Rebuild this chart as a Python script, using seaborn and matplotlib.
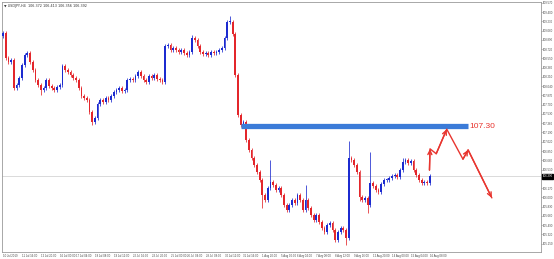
import matplotlib
matplotlib.use("Agg")
import matplotlib.pyplot as plt
import matplotlib.transforms as mtransforms
import seaborn as sns
import numpy as np
import pandas as pd

# ---------------- data ----------------
symbol_info = "USDJPY,H4  106.372 106.413 106.356 106.392"
first_open = 108.96
closes = [
    109.02, 108.56, 108.48, 108.52, 108.01, 108.06, 108.19, 108.43, 108.61, 108.65,
    108.48, 108.34, 108.15, 108.06, 107.97, 108.01, 108.15, 108.04, 108.01, 107.97,
    108.02, 108.06, 108.41, 108.34, 108.30, 108.25, 108.19, 108.15, 108.01, 107.86,
    107.82, 107.79, 107.57, 107.38, 107.46, 107.71, 107.79, 107.75, 107.82, 107.79,
    107.86, 107.93, 107.97, 108.01, 107.95, 107.97, 108.15, 108.17, 108.15, 108.23,
    108.30, 108.23, 108.15, 108.12, 108.23, 108.19, 108.25, 108.17, 108.15, 108.12,
    108.78, 108.80, 108.70, 108.74, 108.70, 108.67, 108.70, 108.65, 108.61, 108.67,
    108.92, 108.89, 108.78, 108.67, 108.63, 108.65, 108.61, 108.67, 108.65, 108.67,
    108.70, 108.74, 108.92, 109.22, 109.22, 109.00, 108.25, 107.51, 107.33, 107.38,
    107.05, 106.87, 106.72, 106.59, 106.47, 106.32, 106.04, 105.95, 106.17, 106.28,
    106.23, 106.13, 106.17, 106.04, 105.86, 105.77, 105.86, 105.95, 105.90, 106.04,
    105.95, 105.77, 105.95, 105.80, 105.68, 105.58, 105.68, 105.55, 105.44, 105.36,
    105.49, 105.53, 105.40, 105.22, 105.36, 105.44, 105.40, 105.25, 106.72, 106.69,
    106.59, 106.47, 106.01, 105.95, 105.99, 105.86, 106.26, 106.21, 106.13, 106.10,
    106.24, 106.32, 106.32, 106.36, 106.39, 106.41, 106.37, 106.50, 106.65, 106.69,
    106.63, 106.67, 106.50, 106.41, 106.32, 106.26, 106.28, 106.26, 106.39,
]
extreme_highs = {0: 109.05, 70: 108.98, 84: 109.33, 99: 106.69, 112: 106.23,
                 128: 107.03, 136: 106.83, 148: 106.72}
extreme_lows = {14: 107.88, 33: 107.33, 96: 105.80, 123: 105.18, 127: 105.13,
                135: 105.71, 132: 105.93}
default_wick = 0.04

last_price = closes[-1]
resistance_level = 107.30
resistance_label = "107.30"
resistance_start_bar = 88
resistance_end_bar = 172

projection_bars = [157.9, 158.1, 160.4, 164.3, 170.3, 172.2, 181.0]
projection_prices = [106.50, 106.89, 106.80, 107.25, 106.70, 106.87, 105.99]
arrow_points = [1, 3, 5, 6]

price_ticks = [109.570, 109.400, 109.230, 109.060, 108.890, 108.720, 108.550,
               108.380, 108.210, 108.040, 107.870, 107.700, 107.530, 107.360,
               107.190, 107.020, 106.850, 106.680, 106.510, 106.340, 106.170,
               106.000, 105.830, 105.660, 105.490, 105.320, 105.150]
time_tick_bars = [0, 7, 14, 21, 27, 34, 41, 48, 55, 62, 68, 75, 82, 89, 96,
                  103, 109, 116, 123, 130, 137, 144, 151, 158]
time_tick_labels = ["10 Jul 2019", "11 Jul 16:00", "12 Jul 20:00", "16 Jul 00:00",
                    "17 Jul 04:00", "18 Jul 08:00", "19 Jul 12:00", "22 Jul 16:00",
                    "23 Jul 20:00", "25 Jul 00:00", "26 Jul 04:00", "29 Jul 08:00",
                    "30 Jul 12:00", "31 Jul 16:00", "1 Aug 20:00", "5 Aug 00:00",
                    "6 Aug 04:00", "7 Aug 08:00", "8 Aug 12:00", "9 Aug 16:00",
                    "12 Aug 20:00", "14 Aug 00:00", "15 Aug 04:00", "16 Aug 08:00"]

# ---------------- build OHLC table ----------------
opens = [first_open] + closes[:-1]
df = pd.DataFrame({"bar": np.arange(len(closes)), "open": opens, "close": closes})
df["high"] = df[["open", "close"]].max(axis=1) + default_wick
df["low"] = df[["open", "close"]].min(axis=1) - default_wick
for b, v in extreme_highs.items():
    df.loc[b, "high"] = v
for b, v in extreme_lows.items():
    df.loc[b, "low"] = v
df["up"] = df["close"] >= df["open"]

BULL = "#1c2bd0"
BEAR = "#e3262b"
RED = "#e8352f"
ZONE = "#3b7bd8"

sns.set_theme(style="white")
plt.rcParams["font.family"] = ["Liberation Sans", "DejaVu Sans"]

fig = plt.figure(figsize=(5.54, 2.59), dpi=100)
fig.patch.set_facecolor("white")
ax = fig.add_axes([2 / 554, 7 / 259, 539 / 554, 250 / 259])
ax.set_facecolor("white")

colors = np.where(df["up"], BULL, BEAR)

# current price line
ax.axhline(last_price, color="#d4d4d4", lw=0.6, zorder=1)

# wicks
ax.vlines(df["bar"], df["low"], df["high"], colors=colors, lw=0.55, zorder=2)
# bodies
body_bottom = df[["open", "close"]].min(axis=1)
body_height = (df["close"] - df["open"]).abs().clip(lower=0.012)
ax.bar(df["bar"], body_height, bottom=body_bottom, width=0.66, color=colors,
       linewidth=0, zorder=3)

# resistance zone
ax.hlines(resistance_level, resistance_start_bar, resistance_end_bar,
          color=ZONE, lw=3.8, zorder=4)
ax.text(resistance_end_bar + 0.8, resistance_level, resistance_label, color=RED,
        fontsize=6.0, va="center", ha="left", zorder=5)

# projection path
sns.lineplot(x=projection_bars, y=projection_prices, sort=False, estimator=None,
             color=RED, lw=1.0, ax=ax, zorder=6)
for i in arrow_points:
    ax.annotate("", xy=(projection_bars[i], projection_prices[i]),
                xytext=(projection_bars[i - 1], projection_prices[i - 1]),
                arrowprops=dict(arrowstyle="->,head_length=0.25,head_width=0.12",
                                color=RED, lw=1.0, shrinkA=0, shrinkB=0),
                zorder=7)

# axes limits / ticks
ax.set_xlim(-0.4, 199.2)
ax.set_ylim(104.997, 109.584)
ax.yaxis.tick_right()
ax.set_yticks(price_ticks)
ax.set_yticklabels([f"{p:.3f}" for p in price_ticks])
ax.set_xticks(time_tick_bars)
ax.set_xticklabels(time_tick_labels, ha="left")
ax.tick_params(axis="y", labelsize=2.0, colors="#444444", length=1.0, width=0.4,
               pad=0.6)
ax.tick_params(axis="x", labelsize=1.95, colors="#444444", length=1.0, width=0.4,
               pad=0.6)
for s in ax.spines.values():
    s.set_color("#9a9a9a")
    s.set_linewidth(0.6)
    s.set_visible(True)

# highlighted current price label on the right axis
trans = mtransforms.blended_transform_factory(ax.transAxes, ax.transData)
ax.text(1.003, last_price, f"{last_price:.3f}", transform=trans, fontsize=2.0,
        color="white", va="center", ha="left",
        bbox=dict(boxstyle="square,pad=0.2", fc="black", ec="black"), zorder=8,
        clip_on=False)

# symbol info top-left
ax.text(0.004, 0.993, "\u25bc " + symbol_info, transform=ax.transAxes,
        fontsize=2.4, color="#333333", va="top", ha="left",
        family=["DejaVu Sans"])

ax.set_xlabel("")
ax.set_ylabel("")
fig.savefig("out.png", dpi=100, facecolor="white")
